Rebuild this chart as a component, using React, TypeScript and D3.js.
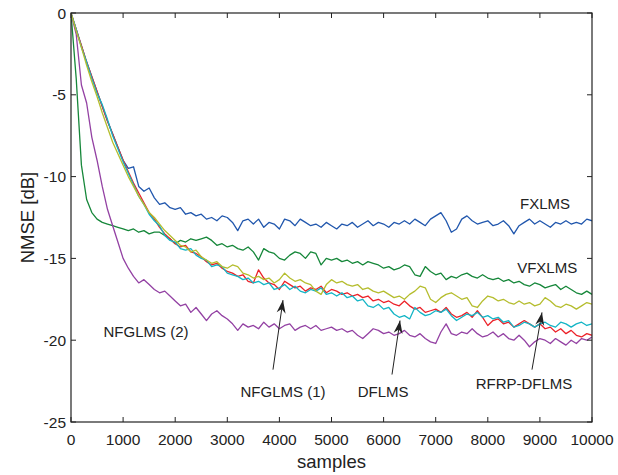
import React from "react";
import * as d3 from "d3";

// samples: 0..10000 step 100
const STEP = 100;
const fxlms = [0,-1.0,-2.0,-3.0,-3.9,-4.8,-5.7,-6.6,-7.4,-8.2,-9.0,-9.5,-9.4,-10.6,-10.9,-10.7,-11.3,-11.7,-11.6,-11.9,-12.0,-11.9,-12.3,-12.2,-12.4,-12.3,-12.6,-12.5,-12.7,-12.4,-12.5,-12.8,-13.3,-12.7,-12.6,-12.9,-12.6,-13.1,-12.8,-12.9,-13.2,-12.6,-12.7,-13.0,-12.6,-12.8,-13.0,-12.9,-13.1,-12.8,-13.0,-13.2,-12.9,-13.0,-12.8,-13.1,-12.9,-12.7,-13.0,-12.8,-12.9,-13.1,-12.8,-12.9,-12.7,-12.9,-12.6,-12.8,-13.0,-12.6,-12.4,-12.2,-12.7,-13.4,-13.2,-12.6,-12.4,-12.7,-12.9,-12.8,-12.7,-13.0,-12.9,-12.7,-13.0,-13.5,-13.0,-12.8,-12.6,-12.9,-12.7,-12.9,-13.1,-12.8,-12.9,-12.7,-12.9,-12.8,-12.9,-12.6,-12.7];
const vfxlms = [0,-4.0,-9.3,-11.4,-12.2,-12.6,-12.8,-12.9,-13.0,-13.1,-13.2,-13.3,-13.2,-13.4,-13.3,-13.5,-13.4,-13.4,-13.6,-13.8,-14.1,-13.9,-14.0,-13.8,-13.9,-13.8,-13.7,-13.9,-14.2,-14.1,-14.3,-14.2,-14.4,-14.5,-14.3,-14.6,-15.1,-14.4,-14.6,-14.7,-15.0,-15.1,-14.8,-14.6,-14.7,-15.0,-14.6,-14.7,-15.4,-15.0,-15.1,-15.0,-15.2,-15.1,-15.3,-15.2,-15.4,-15.2,-15.3,-15.4,-15.6,-15.5,-15.7,-15.6,-15.4,-15.5,-16.0,-16.1,-15.5,-15.8,-16.0,-15.9,-16.3,-16.1,-16.2,-16.0,-15.9,-16.1,-16.2,-16.0,-16.2,-16.3,-16.2,-16.4,-16.3,-16.5,-16.4,-16.6,-16.7,-16.5,-16.6,-16.8,-16.7,-16.6,-16.9,-16.7,-16.9,-17.1,-17.2,-17.0,-17.2];
const nfglms2 = [0,-1.3,-4.4,-5.5,-7.6,-9.0,-10.6,-12.0,-13.0,-14.0,-15.0,-15.6,-16.1,-16.5,-16.3,-16.6,-16.9,-17.1,-17.0,-17.3,-17.6,-17.9,-17.8,-18.3,-18.0,-18.4,-18.8,-18.4,-18.2,-18.5,-18.7,-19.0,-19.4,-19.0,-19.2,-19.1,-19.3,-18.9,-19.2,-19.0,-19.3,-19.1,-19.0,-19.4,-19.2,-19.1,-19.3,-19.1,-19.4,-19.3,-19.2,-19.4,-19.3,-19.5,-19.4,-19.7,-19.9,-19.6,-19.3,-19.4,-19.6,-19.5,-19.7,-19.6,-19.4,-19.7,-19.8,-19.6,-19.9,-20.1,-20.2,-19.5,-19.0,-19.6,-19.7,-19.5,-19.6,-19.3,-19.6,-19.8,-19.7,-19.5,-19.8,-19.6,-19.9,-20.0,-19.7,-20.0,-20.4,-20.1,-19.9,-20.0,-20.2,-19.9,-20.1,-20.3,-20.0,-20.2,-19.9,-20.0,-19.8];
const nfglms1 = [0,-1.0,-2.0,-3.0,-3.9,-4.8,-5.7,-6.6,-7.4,-8.2,-9.0,-9.7,-10.4,-11.0,-11.6,-12.2,-12.6,-13.1,-13.5,-13.8,-14.1,-14.3,-14.2,-14.6,-14.7,-14.9,-15.2,-15.4,-15.3,-15.6,-15.8,-15.9,-16.1,-16.0,-16.4,-16.5,-15.7,-16.2,-16.5,-16.6,-16.9,-16.4,-16.6,-16.8,-16.7,-17.0,-16.8,-16.9,-16.7,-17.1,-16.9,-17.0,-17.2,-17.1,-17.3,-17.2,-17.4,-17.3,-17.6,-17.5,-17.7,-17.6,-17.8,-17.9,-17.6,-17.9,-18.1,-18.0,-18.3,-18.2,-18.1,-18.3,-18.0,-18.4,-18.6,-18.5,-18.3,-18.6,-18.2,-18.6,-19.1,-18.8,-18.7,-19.0,-18.9,-19.2,-19.0,-18.8,-19.0,-19.2,-19.0,-19.3,-19.2,-19.5,-19.3,-19.6,-19.4,-19.7,-19.8,-19.6,-19.7];
const dflms = [0,-1.0,-2.1,-3.0,-4.0,-4.9,-5.6,-6.5,-7.5,-8.3,-9.1,-9.8,-10.5,-11.2,-11.7,-12.3,-12.7,-13.0,-13.6,-13.9,-14.0,-14.4,-14.5,-14.4,-14.8,-15.0,-15.1,-15.5,-15.4,-15.5,-15.9,-16.0,-16.1,-16.3,-16.2,-16.5,-16.4,-16.6,-16.5,-16.9,-16.8,-16.6,-16.9,-16.7,-17.0,-17.1,-16.9,-17.0,-16.8,-17.2,-17.1,-17.3,-17.1,-17.4,-17.3,-17.6,-17.5,-17.9,-18.0,-17.8,-18.1,-18.0,-18.4,-18.6,-18.5,-18.7,-18.0,-18.3,-18.5,-18.4,-18.2,-18.3,-18.1,-18.5,-18.8,-18.6,-18.4,-18.5,-18.3,-18.6,-18.5,-18.7,-18.6,-18.9,-18.8,-19.2,-19.1,-18.9,-19.0,-19.2,-19.0,-18.9,-19.1,-19.2,-18.9,-19.0,-19.2,-19.0,-18.9,-19.1,-19.0];
const rfrpdflms = [0,-1.1,-2.1,-3.2,-4.2,-5.1,-6.1,-7.0,-7.9,-8.6,-9.3,-10.0,-10.6,-11.2,-11.7,-12.2,-12.5,-12.9,-13.3,-13.6,-13.9,-14.2,-14.3,-14.6,-14.5,-14.9,-15.1,-15.3,-15.2,-15.5,-15.6,-15.4,-15.5,-15.9,-16.0,-16.2,-16.1,-16.3,-16.2,-16.5,-16.3,-15.9,-16.2,-16.4,-16.3,-16.5,-16.6,-17.0,-17.2,-16.6,-16.3,-16.5,-16.4,-16.6,-16.7,-16.6,-16.9,-16.8,-17.0,-17.1,-17.0,-17.2,-17.4,-17.3,-17.5,-17.2,-17.0,-16.7,-16.8,-17.5,-17.7,-17.4,-17.2,-17.1,-17.3,-17.5,-17.4,-17.9,-18.0,-17.6,-17.3,-17.4,-17.6,-17.5,-17.7,-17.8,-17.6,-17.8,-17.7,-17.9,-17.8,-17.4,-17.6,-17.9,-18.0,-17.8,-17.9,-18.1,-17.9,-17.7,-17.8];

const xTicks = [0,1000,2000,3000,4000,5000,6000,7000,8000,9000,10000];
const yTicks = [0,-5,-10,-15,-20,-25];

const series = [
  { name: "FXLMS", values: fxlms, color: "#2157ad" },
  { name: "VFXLMS", values: vfxlms, color: "#16873a" },
  { name: "NFGLMS (2)", values: nfglms2, color: "#9341a3" },
  { name: "NFGLMS (1)", values: nfglms1, color: "#ec2229" },
  { name: "DFLMS", values: dflms, color: "#13b5c6" },
  { name: "RFRP-DFLMS", values: rfrpdflms, color: "#b5bd2e" },
];

// labels: [text, x (samples), y (dB)]
const labels: [string, number, number][] = [
  ["FXLMS", 9100, -12.0],
  ["VFXLMS", 9140, -15.9],
  ["NFGLMS (2)", 1440, -19.8],
  ["NFGLMS (1)", 4069, -23.5],
  ["DFLMS", 5990, -23.5],
  ["RFRP-DFLMS", 8695, -23.0],
];
// arrows: [tailX, tailY, tipX, tipY]
const arrows: [number, number, number, number][] = [
  [3877, -21.8, 4069, -17.55],
  [6161, -22.1, 6315, -18.8],
  [8848, -21.8, 9040, -18.3],
];

const W = 618, H = 475;
const L = 71, T = 13, R = 592, B = 422;

export default function App() {
  const x = d3.scaleLinear().domain([0, 10000]).range([L, R]);
  const y = d3.scaleLinear().domain([-25, 0]).range([B, T]);
  const line = d3.line<number>().x((_, i) => x(i * STEP)).y((d) => y(d));
  const font = "'Liberation Sans', Arial, Helvetica, sans-serif";
  const axisColor = "#222";

  const arrowHead = (tx: number, ty: number, hx: number, hy: number) => {
    const px = x(hx), py = y(hy), qx = x(tx), qy = y(ty);
    const ang = Math.atan2(py - qy, px - qx);
    const len = 13, wid = 4.5, notch = 9;
    const ux = Math.cos(ang), uy = Math.sin(ang);
    const nx = -uy, ny = ux;
    const p1 = [px - ux * len + nx * wid, py - uy * len + ny * wid];
    const p2 = [px - ux * notch, py - uy * notch];
    const p3 = [px - ux * len - nx * wid, py - uy * len - ny * wid];
    return `M${px},${py}L${p1[0]},${p1[1]}L${p2[0]},${p2[1]}L${p3[0]},${p3[1]}Z`;
  };

  return (
    <svg width={W} height={H} style={{ display: "block", position: "absolute", left: 0, top: 0 }} fontFamily={font}>
      <rect x={0} y={0} width={W} height={H} fill="#fff" />
      <defs>
        <clipPath id="plot"><rect x={L} y={T} width={R - L} height={B - T} /></clipPath>
      </defs>
      <g clipPath="url(#plot)">
        {series.map((s) => (
          <path key={s.name} d={line(s.values) || ""} fill="none" stroke={s.color} strokeWidth={1.3} strokeLinejoin="round" />
        ))}
      </g>
      <rect x={L} y={T} width={R - L} height={B - T} fill="none" stroke={axisColor} strokeWidth={1.2} />
      {xTicks.map((t) => (
        <g key={"x" + t}>
          <line x1={x(t)} x2={x(t)} y1={B} y2={B - 5} stroke={axisColor} />
          <line x1={x(t)} x2={x(t)} y1={T} y2={T + 5} stroke={axisColor} />
          <text x={x(t)} y={445} textAnchor="middle" fontSize={15.5} fill="#222">{t}</text>
        </g>
      ))}
      {yTicks.map((t) => (
        <g key={"y" + t}>
          <line x1={L} x2={L + 5} y1={y(t)} y2={y(t)} stroke={axisColor} />
          <line x1={R} x2={R - 5} y1={y(t)} y2={y(t)} stroke={axisColor} />
          <text x={66} y={y(t) + 5.5} textAnchor="end" fontSize={15.5} fill="#222">{t}</text>
        </g>
      ))}
      <text x={(L + R) / 2} y={468} textAnchor="middle" fontSize={18.5} fill="#222">samples</text>
      <text transform={`translate(34,${(T + B) / 2}) rotate(-90)`} textAnchor="middle" fontSize={18.5} fill="#222">NMSE [dB]</text>
      {labels.map(([t, lx, ly]) => (
        <text key={t} x={x(lx)} y={y(ly)} textAnchor="middle" fontSize={15} fill="#222">{t}</text>
      ))}
      {arrows.map(([tx, ty, hx, hy], i) => (
        <g key={"a" + i}>
          <line x1={x(tx)} y1={y(ty)} x2={x(hx)} y2={y(hy)} stroke="#222" strokeWidth={1} />
          <path d={arrowHead(tx, ty, hx, hy)} fill="#222" />
        </g>
      ))}
    </svg>
  );
}
